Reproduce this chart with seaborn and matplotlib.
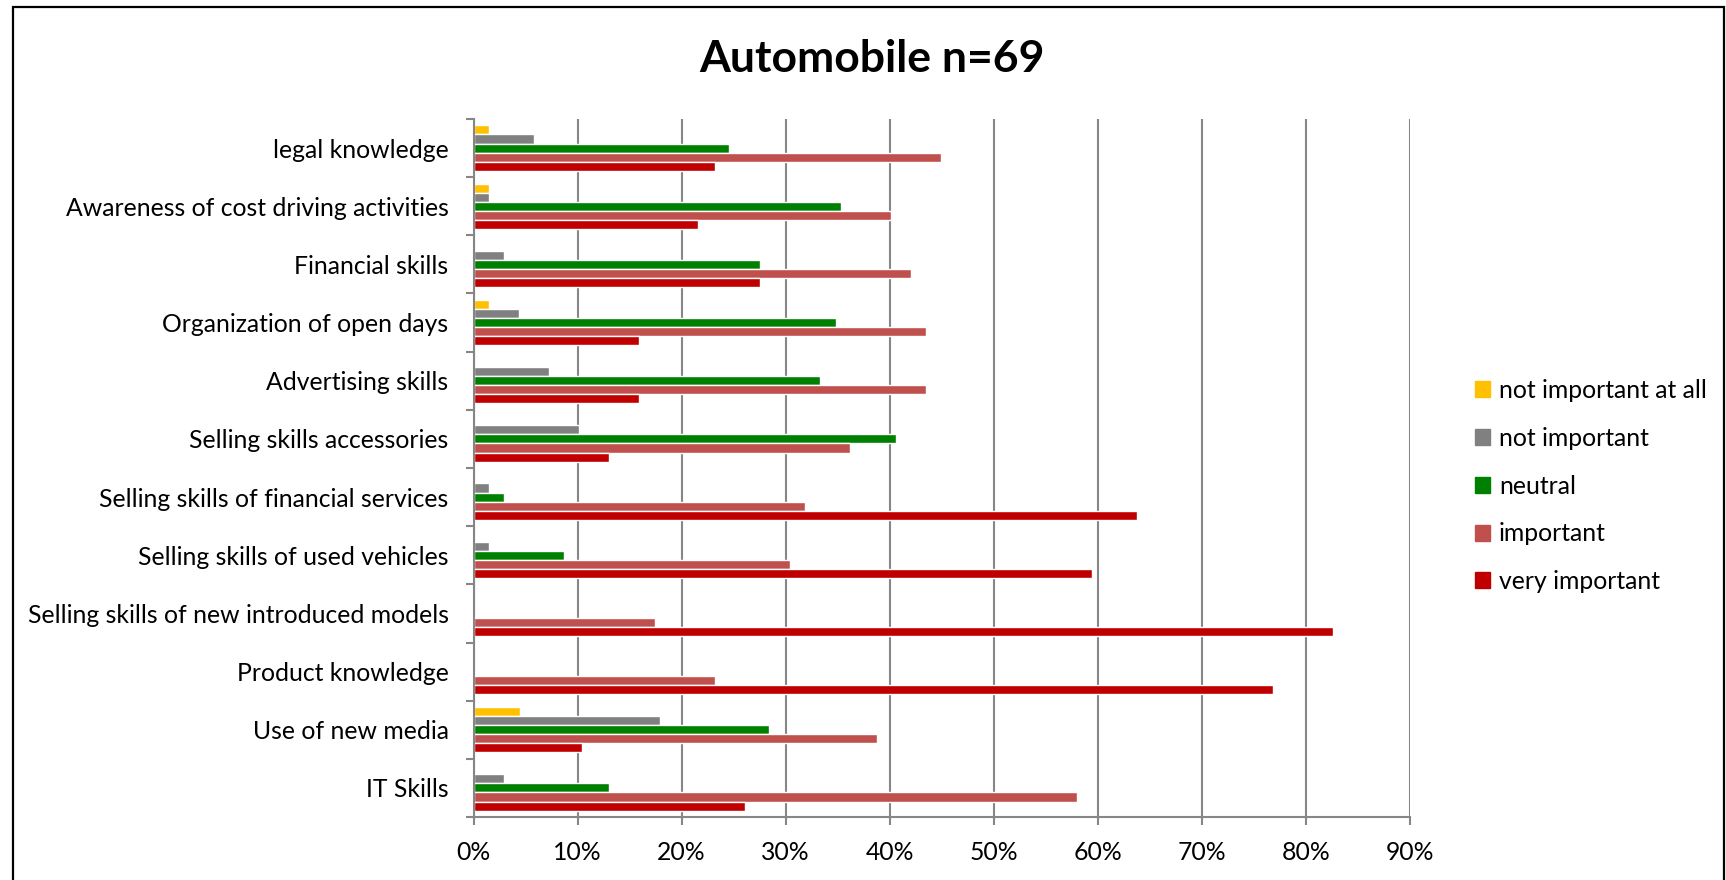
import matplotlib
matplotlib.use("Agg")
import matplotlib.pyplot as plt
from matplotlib.patches import Rectangle
from matplotlib.ticker import PercentFormatter, FixedLocator
import pandas as pd
import seaborn as sns

# skills, top to bottom as shown in the chart
skills = [
    "legal knowledge",
    "Awareness of cost driving activities",
    "Financial skills",
    "Organization of open days",
    "Advertising skills",
    "Selling skills accessories",
    "Selling skills of financial services",
    "Selling skills of used vehicles",
    "Selling skills of new introduced models",
    "Product knowledge",
    "Use of new media",
    "IT Skills",
]

levels = ["not important at all", "not important", "neutral", "important", "very important"]

# shares (fractions)
not_important_at_all = [0.0145, 0.0147, 0.0, 0.0145, 0.0, 0.0, 0.0, 0.0, 0.0, 0.0, 0.0448, 0.0]
not_important = [0.058, 0.0147, 0.029, 0.0435, 0.0725, 0.101, 0.0145, 0.0145, 0.0, 0.0, 0.179, 0.029]
neutral = [0.246, 0.353, 0.275, 0.348, 0.333, 0.406, 0.029, 0.087, 0.0, 0.0, 0.284, 0.130]
important = [0.449, 0.401, 0.420, 0.435, 0.435, 0.362, 0.319, 0.304, 0.174, 0.232, 0.388, 0.580]
very_important = [0.232, 0.216, 0.275, 0.159, 0.159, 0.130, 0.638, 0.594, 0.826, 0.768, 0.104, 0.261]

colors = ["#FFC000", "#808080", "#008000", "#C0504D", "#C00000"]

df = pd.DataFrame({
    "skill": skills,
    "not important at all": not_important_at_all,
    "not important": not_important,
    "neutral": neutral,
    "important": important,
    "very important": very_important,
})
long_df = df.melt(id_vars="skill", var_name="level", value_name="share")

sns.set_theme(style="white")
plt.rcParams["font.family"] = ["Lato", "DejaVu Sans"]
plt.rcParams["text.color"] = "black"

fs = 17.8
fig = plt.figure(figsize=(17.26, 8.80), dpi=100)
ax = fig.add_axes([473.5 / 1726, 1 - 817 / 880, (1410 - 473.5) / 1726, (817 - 119) / 880])

sns.barplot(data=long_df, x="share", y="skill", hue="level", order=skills,
            hue_order=levels, palette=colors, orient="h", width=0.78,
            saturation=1, ax=ax, legend=True)

grid_col = "#868686"
ax.set_xlim(0, 0.9)
ax.set_ylim(len(skills) - 0.5, -0.5)
ax.set_xticks([i / 10 for i in range(10)])
ax.xaxis.set_major_formatter(PercentFormatter(1.0, decimals=0))
ax.grid(axis="x", color=grid_col, linewidth=1.5)
ax.grid(axis="y", visible=False)
ax.set_axisbelow(True)
ax.set_xlabel("")
ax.set_ylabel("")

for side in ["top", "right"]:
    ax.spines[side].set_visible(False)
for side in ["left", "bottom"]:
    ax.spines[side].set_color(grid_col)
    ax.spines[side].set_linewidth(1.5)

ax.tick_params(axis="x", direction="out", length=6, width=1.5, color=grid_col,
               labelsize=fs, pad=11, labelcolor="black", bottom=True)
ax.tick_params(axis="y", which="major", length=0, labelsize=fs, pad=18, labelcolor="black")
ax.yaxis.set_minor_locator(FixedLocator([i - 0.5 for i in range(len(skills) + 1)]))
ax.tick_params(axis="y", which="minor", direction="out", length=6, width=1.5,
               color=grid_col, left=True)

ax.legend_.remove()
handles = [Rectangle((0, 0), 1, 1, color=c) for c in colors]
fig.legend(handles, levels, loc="center left", bbox_to_anchor=(1475 / 1726, 1 - 486 / 880),
           frameon=False, fontsize=fs, handlelength=0.62, handleheight=0.62,
           handletextpad=0.35, labelspacing=1.0, borderpad=0, borderaxespad=0)

fig.text(872 / 1726, 1 - 59 / 880, "Automobile n=69", ha="center", va="center",
         fontsize=32, fontweight="bold", color="black")

fig.patches.append(Rectangle((12.7 / 1726, -0.02), (1724 - 12.7) / 1726, 1.02 - 6.7 / 880,
                             transform=fig.transFigure, fill=False, edgecolor="black",
                             linewidth=1.6, clip_on=False))

fig.savefig("out.png", dpi=100)
